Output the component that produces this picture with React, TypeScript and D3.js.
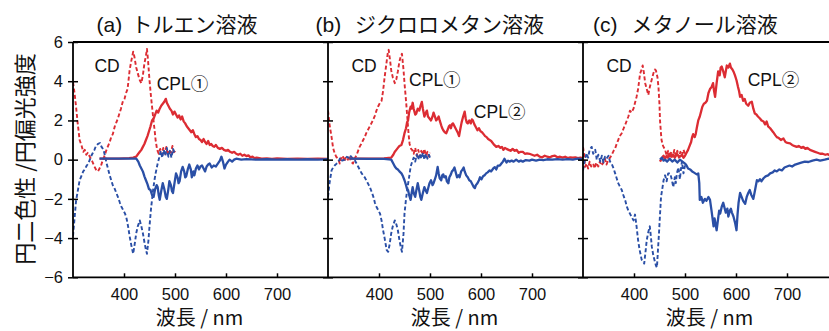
import React, { useEffect, useRef } from "react";
import * as d3 from "d3";

// panel headings and axis texts
const panelTags = ["(a)", "(b)", "(c)"];
const panelNames = ["トルエン溶液", "ジクロロメタン溶液", "メタノール溶液"];
const xTicks = [400, 500, 600, 700];
const yTicks = [-6, -4, -2, 0, 2, 4, 6];
const xLabel = "波長 / nm";
const yLabel = "円二色性 /円偏光強度";

// (a) toluene: [wavelength nm, value]
const cdRedA: [number, number][] = [
  [300, 3.95], [303, 3.4], [306, 2.7], [309, 1.9], [313, 1.0], [317, 0.7], [320, 0.4], [323, 0.5],
  [326, 0.25], [329, 0.35], [332, 0.2], [335, 0.05], [338, -0.1], [342, -0.35], [345, -0.5], [349, -0.6],
  [352, -0.45], [355, -0.3], [358, -0.05], [362, 0.2], [365, 0.45], [368, 0.65], [372, 0.9], [375, 1.15],
  [378, 1.3], [382, 1.7], [385, 1.9], [388, 2.1], [391, 2.35], [394, 2.6], [398, 3.0], [401, 3.1],
  [404, 3.4], [407, 3.6], [411, 4.55], [414, 5.0], [418, 5.5], [420, 5.3], [424, 4.7], [427, 4.4],
  [431, 4.05], [434, 3.9], [437, 4.3], [440, 4.9], [443, 5.3], [445, 5.65], [447, 5.1], [450, 4.05],
  [453, 3.2], [457, 2.2], [460, 1.5], [462, 1.0], [465, 0.5], [468, 0.3], [471, 0.55], [474, 0.25],
  [477, 0.6], [480, 0.3], [483, 0.65], [486, 0.2], [489, 0.5], [492, 0.35], [495, 0.7], [498, 0.3], [500, 0.45],
];
const cdBlueA: [number, number][] = [
  [300, -3.9], [303, -3.0], [306, -2.1], [310, -1.5], [313, -1.05], [317, -0.8], [320, -0.6], [323, -0.5],
  [327, -0.3], [330, -0.2], [333, 0.0], [336, 0.2], [339, 0.35], [342, 0.5], [345, 0.7], [349, 0.8],
  [353, 0.85], [356, 0.65], [360, 0.5], [363, 0.15], [366, -0.2], [369, -0.5], [372, -0.8], [375, -1.05],
  [378, -1.3], [382, -1.5], [385, -1.7], [388, -1.9], [392, -2.2], [395, -2.4], [398, -2.55], [402, -2.75],
  [405, -3.0], [408, -3.4], [411, -3.9], [415, -4.45], [418, -4.8], [421, -4.3], [424, -3.75], [427, -3.4],
  [431, -3.1], [434, -3.4], [437, -3.75], [440, -4.2], [443, -4.6], [445, -4.8], [448, -4.1], [450, -3.4],
  [453, -2.5], [457, -1.55], [460, -1.0], [462, -0.7], [466, -0.2], [469, 0.1], [472, 0.45], [475, 0.1],
  [478, 0.5], [481, 0.2], [484, 0.6], [487, 0.15], [490, 0.45], [493, 0.1], [496, 0.55], [500, 0.3],
];
const cplRedA: [number, number][] = [
  [352, 0.05], [370, 0.05], [390, 0.05], [410, 0.08], [418, 0.1], [424, 0.15], [428, 0.3], [431, 0.4],
  [434, 0.5], [437, 0.65], [440, 0.8], [443, 1.0], [446, 1.2], [449, 1.45], [452, 1.7], [455, 2.0],
  [458, 2.1], [461, 2.3], [464, 2.5], [467, 2.4], [470, 2.6], [473, 2.75], [476, 2.85], [479, 2.95],
  [482, 3.1], [484, 2.9], [487, 2.75], [490, 2.6], [493, 2.5], [496, 2.3], [499, 2.45], [502, 2.3],
  [505, 2.15], [508, 2.25], [511, 2.05], [514, 2.2], [517, 1.95], [520, 1.85], [523, 1.7], [526, 1.6],
  [529, 1.5], [532, 1.4], [535, 1.5], [538, 1.3], [541, 1.15], [544, 1.2], [547, 1.05], [550, 1.0],
  [553, 0.9], [556, 1.05], [559, 0.9], [562, 0.8], [565, 0.95], [568, 0.75], [571, 0.8], [574, 0.7],
  [577, 0.65], [580, 0.75], [584, 0.6], [588, 0.55], [592, 0.6], [596, 0.5], [600, 0.45], [604, 0.5],
  [608, 0.4], [612, 0.35], [616, 0.4], [620, 0.3], [624, 0.25], [628, 0.3], [632, 0.2], [636, 0.25],
  [640, 0.18], [644, 0.22], [648, 0.12], [652, 0.15], [656, 0.08], [660, 0.1], [670, 0.05], [680, 0.07],
  [690, 0.04], [700, 0.06], [720, 0.04], [740, 0.05], [760, 0.04], [780, 0.05], [800, 0.04],
];
const cplBlueA: [number, number][] = [
  [352, 0.05], [380, 0.05], [410, 0.05], [424, 0.05], [428, -0.1], [431, -0.3], [434, -0.45], [437, -0.6],
  [440, -0.85], [443, -1.05], [446, -1.25], [449, -1.5], [452, -1.55], [455, -1.8], [458, -1.9], [461, -1.5],
  [464, -1.3], [466, -1.4], [468, -1.8], [470, -2.05], [473, -1.6], [476, -1.2], [479, -1.5], [482, -1.9],
  [484, -2.0], [487, -1.5], [489, -1.1], [492, -1.3], [494, -1.6], [496, -1.7], [499, -1.2], [502, -0.7],
  [505, -0.9], [507, -1.2], [509, -1.1], [512, -0.6], [515, -0.37], [518, -0.6], [520, -0.9], [522, -0.85],
  [525, -0.5], [528, -0.25], [531, -0.5], [533, -0.9], [536, -0.6], [538, -0.8], [541, -0.45], [544, -0.3],
  [547, -0.5], [550, -0.35], [553, -0.3], [556, -0.45], [559, -0.6], [562, -0.35], [565, -0.25], [568, -0.2],
  [572, -0.4], [576, -0.3], [580, -0.35], [584, -0.2], [588, -0.05], [591, 0.15], [594, -0.1], [597, -0.45],
  [600, -0.25], [604, -0.1], [607, 0.0], [612, -0.1], [616, 0.0], [620, 0.05], [630, 0.0], [640, 0.03],
  [660, 0.0], [680, 0.02], [700, 0.0], [720, 0.02], [740, 0.0], [760, 0.02], [780, 0.0], [800, 0.02],
];

// (b) dichloromethane
const cdRedB: [number, number][] = [
  [300, 2.5], [303, 1.8], [307, 1.15], [310, 0.6], [313, 0.33], [316, 0.15], [320, 0.05], [323, -0.2],
  [326, 0.1], [329, 0.2], [332, -0.1], [335, 0.15], [339, 0.0], [342, 0.2], [345, -0.1], [349, -0.2],
  [352, 0.05], [356, 0.23], [359, 0.45], [362, 0.65], [365, 0.8], [369, 1.0], [372, 1.15], [375, 1.35],
  [378, 1.5], [382, 1.7], [385, 1.85], [388, 2.0], [392, 2.25], [395, 2.5], [398, 2.7], [402, 2.9],
  [405, 3.0], [408, 3.5], [411, 4.2], [414, 4.8], [417, 5.4], [419, 5.6], [422, 5.0], [424, 4.55],
  [427, 4.2], [431, 3.9], [434, 4.1], [437, 4.5], [440, 5.0], [443, 5.3], [445, 5.4], [448, 4.6],
  [450, 3.9], [453, 3.0], [456, 2.0], [458, 1.3], [460, 0.8], [463, 0.55], [465, 0.5], [468, 0.3],
  [471, 0.6], [474, 0.2], [477, 0.5], [480, 0.15], [483, 0.45], [486, 0.25], [489, 0.55], [492, 0.2],
  [495, 0.4], [498, 0.15], [500, 0.35],
];
const cdBlueB: [number, number][] = [
  [300, -1.9], [303, -1.2], [307, -0.55], [310, -0.4], [313, -0.3], [317, -0.2], [320, -0.15], [324, 0.1],
  [328, -0.05], [333, 0.0], [337, 0.15], [340, 0.1], [343, 0.23], [347, 0.1], [350, 0.0], [353, -0.05],
  [356, -0.2], [359, -0.35], [362, -0.5], [366, -0.7], [369, -0.8], [372, -0.9], [376, -1.1], [379, -1.25],
  [382, -1.4], [385, -1.6], [389, -1.9], [392, -2.2], [395, -2.4], [399, -2.6], [402, -2.75], [405, -3.1],
  [408, -3.6], [411, -4.0], [415, -4.6], [418, -4.7], [421, -4.3], [424, -3.75], [427, -3.4], [431, -3.1],
  [434, -3.3], [437, -3.6], [440, -4.1], [443, -4.5], [445, -4.7], [448, -3.8], [450, -2.75], [453, -2.0],
  [456, -1.4], [459, -0.9], [462, -0.37], [465, -0.1], [468, 0.1], [471, -0.1], [474, 0.25], [477, 0.0],
  [480, 0.3], [483, 0.05], [486, 0.35], [489, 0.0], [492, 0.3], [495, 0.05], [498, 0.25], [500, 0.1],
];
const cplRedB: [number, number][] = [
  [342, 0.05], [380, 0.05], [410, 0.06], [424, 0.1], [428, 0.25], [431, 0.4], [434, 0.5], [437, 0.6],
  [440, 0.7], [444, 0.75], [447, 1.0], [450, 1.35], [453, 1.6], [455, 1.9], [457, 2.0], [459, 2.4],
  [462, 2.7], [464, 2.6], [466, 2.9], [468, 2.6], [471, 2.3], [473, 2.35], [476, 2.6], [479, 2.5],
  [481, 2.7], [484, 2.95], [486, 2.6], [489, 2.2], [492, 2.4], [494, 2.5], [496, 2.2], [499, 2.1],
  [502, 2.0], [505, 2.2], [507, 2.4], [509, 2.25], [512, 2.0], [515, 2.1], [517, 2.2], [519, 2.0],
  [522, 1.75], [524, 1.6], [526, 1.5], [529, 1.4], [532, 1.35], [535, 1.55], [537, 1.7], [539, 1.75],
  [541, 1.6], [543, 1.8], [545, 1.85], [548, 1.7], [551, 1.55], [554, 1.4], [557, 1.2], [559, 1.5],
  [562, 1.9], [565, 2.2], [568, 2.45], [570, 2.1], [572, 1.9], [574, 1.85], [577, 2.0], [580, 1.85],
  [582, 2.05], [584, 2.0], [587, 1.8], [590, 1.65], [593, 1.5], [596, 1.6], [599, 1.45], [602, 1.4],
  [605, 1.3], [608, 1.2], [611, 1.15], [614, 1.05], [617, 1.0], [620, 0.95], [623, 0.85], [626, 0.75],
  [630, 0.65], [634, 0.7], [638, 0.6], [641, 0.65], [644, 0.5], [647, 0.6], [650, 0.55], [654, 0.5],
  [658, 0.45], [662, 0.55], [666, 0.45], [670, 0.5], [674, 0.35], [678, 0.4], [682, 0.4], [686, 0.3],
  [690, 0.32], [695, 0.3], [700, 0.25], [705, 0.2], [710, 0.25], [715, 0.15], [720, 0.12], [725, 0.2],
  [730, 0.15], [735, 0.12], [740, 0.18], [745, 0.2], [750, 0.12], [755, 0.15], [760, 0.1], [765, 0.15],
  [770, 0.08], [775, 0.12], [780, 0.1], [785, 0.12], [790, 0.08], [795, 0.1], [800, 0.08],
];
const cplBlueB: [number, number][] = [
  [342, 0.05], [380, 0.04], [410, 0.04], [424, 0.0], [428, -0.2], [431, -0.35], [434, -0.45], [437, -0.5],
  [440, -0.6], [444, -0.7], [447, -0.85], [450, -1.05], [453, -1.3], [455, -1.5], [457, -1.55], [459, -1.8],
  [462, -2.05], [464, -1.7], [466, -1.4], [468, -1.7], [471, -1.9], [473, -1.6], [476, -1.2], [479, -1.6],
  [481, -1.9], [483, -2.05], [486, -1.7], [489, -1.4], [492, -1.6], [494, -1.7], [496, -1.5], [499, -1.2],
  [502, -1.05], [505, -1.3], [507, -1.2], [509, -1.05], [512, -0.8], [515, -0.37], [517, -0.7], [519, -0.95],
  [522, -1.05], [524, -0.8], [526, -0.75], [528, -0.9], [531, -0.85], [533, -1.1], [536, -1.2], [538, -0.9],
  [541, -0.75], [543, -0.6], [545, -0.55], [548, -0.4], [551, -0.7], [553, -0.9], [556, -0.8], [558, -0.9],
  [561, -0.6], [564, -0.5], [566, -0.4], [568, -0.6], [571, -0.8], [574, -0.9], [577, -1.05], [580, -1.1],
  [583, -1.25], [586, -1.4], [588, -1.45], [590, -1.3], [593, -1.2], [596, -1.05], [598, -0.9], [601, -1.0],
  [604, -0.85], [607, -0.8], [610, -0.7], [613, -0.65], [617, -0.55], [620, -0.6], [624, -0.45], [627, -0.38],
  [630, -0.5], [633, -0.3], [637, -0.3], [640, -0.2], [643, -0.1], [646, 0.05], [650, -0.15], [653, -0.05],
  [656, -0.1], [660, -0.05], [664, -0.1], [669, 0.0], [674, -0.1], [678, -0.05], [682, -0.1], [688, -0.02],
  [695, -0.05], [700, 0.0], [708, -0.05], [715, 0.0], [722, -0.03], [730, 0.02], [740, 0.0], [750, 0.03],
  [760, 0.0], [770, 0.03], [780, 0.0], [790, 0.05], [800, 0.02],
];

// (c) methanol
const cdRedC: [number, number][] = [
  [300, 0.65], [302, 0.3], [304, -0.37], [307, -0.2], [310, -0.45], [313, -0.1], [316, -0.35], [320, -0.2],
  [323, -0.45], [326, -0.15], [330, -0.35], [333, -0.1], [336, -0.3], [340, -0.15], [343, 0.05], [346, -0.25],
  [350, 0.0], [353, 0.1], [356, 0.23], [360, 0.45], [363, 0.57], [366, 0.8], [369, 1.0], [372, 1.2],
  [376, 1.35], [379, 1.55], [383, 1.8], [386, 2.0], [389, 2.2], [392, 2.5], [395, 2.4], [399, 2.6],
  [402, 2.9], [405, 3.2], [408, 3.6], [412, 4.4], [415, 4.6], [417, 4.8], [419, 4.5], [422, 3.9],
  [425, 3.6], [428, 3.3], [431, 3.7], [433, 3.9], [436, 4.2], [438, 4.4], [441, 4.6], [443, 4.55],
  [446, 4.2], [448, 3.7], [450, 2.8], [451, 2.0], [453, 1.3], [454, 1.0], [457, 0.7], [461, 0.5],
  [464, 0.2], [467, 0.45], [470, 0.1], [473, 0.4], [476, 0.15], [479, 0.5], [482, 0.2], [485, 0.45],
  [488, 0.1], [491, 0.4], [494, 0.2], [497, 0.5], [500, 0.3],
];
const cdBlueC: [number, number][] = [
  [300, -0.55], [303, -0.1], [307, 0.33], [310, 0.1], [313, 0.5], [317, 0.65], [320, 0.3], [324, 0.5],
  [327, 0.0], [330, 0.25], [334, -0.1], [337, 0.2], [340, -0.15], [343, 0.15], [346, 0.05], [350, 0.2],
  [353, -0.1], [356, -0.2], [360, -0.45], [363, -0.7], [366, -0.95], [369, -1.2], [372, -1.35], [376, -1.55],
  [379, -1.8], [383, -2.1], [386, -2.4], [389, -2.6], [392, -2.75], [395, -2.9], [399, -3.1], [402, -2.8],
  [405, -3.4], [408, -4.1], [411, -4.6], [415, -5.1], [418, -5.2], [420, -5.3], [423, -4.6], [425, -4.1],
  [428, -3.7], [431, -3.4], [433, -3.9], [435, -4.45], [438, -4.9], [441, -5.2], [443, -5.4], [445, -5.5],
  [447, -4.6], [449, -3.75], [451, -2.8], [453, -1.9], [456, -1.4], [458, -1.05], [461, -0.8], [464, -1.1],
  [467, -0.7], [471, -0.7], [474, -1.0], [477, -1.4], [480, -0.9], [482, -1.2], [484, -0.7], [487, -0.4],
  [490, -1.0], [492, -0.5], [494, -0.1], [497, -0.7], [500, -0.3],
];
const cplRedC: [number, number][] = [
  [451, -0.1], [455, 0.1], [458, 0.2], [461, 0.05], [464, 0.2], [467, 0.1], [470, 0.3], [473, 0.15],
  [477, 0.25], [480, 0.1], [484, 0.3], [487, 0.2], [490, 0.15], [494, 0.25], [497, 0.1], [500, 0.2],
  [503, 0.35], [506, 0.5], [509, 0.7], [512, 0.9], [514, 1.15], [516, 1.3], [519, 1.15], [521, 1.3],
  [523, 1.6], [526, 2.0], [529, 2.2], [532, 2.5], [534, 2.7], [537, 2.85], [540, 2.9], [543, 3.0],
  [546, 3.4], [549, 3.6], [552, 3.7], [555, 3.9], [557, 3.5], [559, 3.2], [562, 3.9], [565, 4.5],
  [568, 4.3], [570, 4.7], [572, 4.75], [575, 4.5], [578, 4.2], [580, 4.5], [582, 4.8], [585, 4.7],
  [588, 4.9], [590, 4.7], [593, 4.6], [595, 4.5], [598, 4.3], [601, 4.05], [604, 3.7], [606, 3.5],
  [608, 3.2], [611, 3.3], [614, 3.0], [617, 3.1], [620, 2.85], [624, 2.75], [627, 2.9], [631, 2.95],
  [634, 2.6], [637, 2.35], [640, 2.3], [643, 2.2], [647, 2.1], [650, 2.0], [654, 1.95], [657, 1.8],
  [660, 1.95], [663, 1.7], [667, 1.6], [670, 1.5], [673, 1.4], [677, 1.25], [680, 1.15], [684, 1.1],
  [688, 1.0], [693, 1.08], [697, 0.9], [701, 0.85], [706, 0.83], [710, 0.75], [714, 0.7], [719, 0.65],
  [723, 0.7], [728, 0.6], [732, 0.65], [736, 0.55], [740, 0.6], [745, 0.5], [750, 0.45], [755, 0.4],
  [760, 0.35], [765, 0.3], [770, 0.3], [775, 0.25], [780, 0.28], [785, 0.2], [790, 0.22], [800, 0.2],
];
const cplBlueC: [number, number][] = [
  [451, 0.0], [455, 0.1], [458, -0.05], [461, 0.0], [465, -0.1], [470, 0.05], [475, -0.1], [480, 0.0],
  [485, -0.15], [490, 0.0], [495, -0.1], [500, -0.2], [503, -0.3], [506, -0.45], [510, -0.5], [514, -0.6],
  [517, -0.65], [520, -0.7], [523, -0.75], [526, -0.7], [528, -1.2], [529, -2.05], [532, -1.9], [535, -2.2],
  [539, -2.0], [542, -2.1], [546, -1.9], [549, -2.05], [552, -2.6], [554, -3.0], [556, -3.4], [558, -3.0],
  [560, -3.3], [562, -3.6], [565, -3.0], [567, -2.6], [569, -2.75], [572, -2.4], [575, -2.2], [578, -2.5],
  [580, -2.7], [583, -2.5], [585, -2.9], [588, -2.6], [590, -2.5], [592, -2.7], [595, -2.9], [598, -3.2],
  [601, -3.6], [603, -2.8], [605, -2.2], [608, -1.7], [611, -1.9], [614, -2.1], [618, -2.25], [621, -1.9],
  [624, -1.7], [627, -1.55], [630, -1.8], [634, -2.0], [637, -1.6], [641, -1.05], [644, -1.1], [647, -1.0],
  [650, -1.1], [654, -0.95], [658, -0.85], [663, -0.8], [667, -0.7], [672, -0.65], [676, -0.55], [680, -0.6],
  [685, -0.5], [690, -0.55], [695, -0.4], [700, -0.35], [705, -0.3], [710, -0.35], [716, -0.25], [722, -0.2],
  [728, -0.15], [735, -0.1], [742, -0.12], [750, -0.05], [758, 0.0], [765, -0.05], [774, 0.0], [782, 0.05],
  [790, 0.0], [800, 0.02],
];

// callouts: [panel, text, wavelength, value]
const callouts: [number, string, number, number][] = [
  [0, "CD", 342, 4.45], [0, "CPL①", 464, 3.53],
  [1, "CD", 346, 4.45], [1, "CPL①", 459, 3.78], [1, "CPL②", 586, 2.12],
  [2, "CD", 346, 4.45], [2, "CPL②", 623, 3.76],
];

const RED = "#dc2c33";
const BLUE = "#2a4fa6";
const LATIN = "'Liberation Sans', Arial, 'Noto Sans CJK JP', sans-serif";
const CJK = "'Noto Sans CJK JP', sans-serif";

function drawChart(svgEl: SVGSVGElement) {
  const svg = d3.select(svgEl);
  svg.selectAll("*").remove();

  const panelW = 255;
  const left = 73;
  const top = 42;
  const bottom = 277.3;

  const y = d3.scaleLinear().domain([-6, 6]).range([bottom, top]);

  const panels = [
    { cdRed: cdRedA, cdBlue: cdBlueA, cplRed: cplRedA, cplBlue: cplBlueA },
    { cdRed: cdRedB, cdBlue: cdBlueB, cplRed: cplRedB, cplBlue: cplBlueB },
    { cdRed: cdRedC, cdBlue: cdBlueC, cplRed: cplRedC, cplBlue: cplBlueC },
  ];
  const titleX = [[96.5, 131.5], [315.5, 355], [593, 631.5]];

  panels.forEach((p, i) => {
    const x0 = left + i * panelW;
    const x = d3.scaleLinear().domain([300, 800]).range([x0, x0 + panelW]);
    const g = svg.append("g");

    // clip to plot area
    const clipId = `clip-${i}`;
    svg.append("clipPath").attr("id", clipId)
      .append("rect").attr("x", x0).attr("y", top).attr("width", panelW).attr("height", bottom - top);

    const line = d3.line<[number, number]>().x((d) => x(d[0])).y((d) => y(d[1]));
    const lines = g.append("g").attr("clip-path", `url(#${clipId})`);

    // dashed CD traces, solid CPL traces
    [[p.cdRed, RED, true], [p.cdBlue, BLUE, true], [p.cplRed, RED, false], [p.cplBlue, BLUE, false]]
      .forEach(([data, color, dashed]: any) => {
        lines.append("path")
          .datum(data)
          .attr("d", line)
          .attr("fill", "none")
          .attr("stroke", color)
          .attr("stroke-width", dashed ? 1.9 : 2.3)
          .attr("stroke-linejoin", "round")
          .attr("stroke-dasharray", dashed ? "4,2.4" : null);
      });

    // bottom axis with inward ticks
    const xAxis = g.append("g")
      .attr("transform", `translate(0,${bottom})`)
      .call(d3.axisBottom(x).tickValues(xTicks).tickSize(-4).tickPadding(11).tickSizeOuter(0));
    xAxis.select(".domain").remove();
    xAxis.selectAll(".tick line").attr("stroke", "#000").attr("stroke-width", 1.5);
    xAxis.selectAll(".tick text")
      .attr("font-family", LATIN).attr("font-size", 16.5).attr("fill", "#111");

    // left edge axis: ticks cross the line
    const yAxis = g.append("g")
      .attr("transform", `translate(${x0},0)`)
      .call(d3.axisLeft(y).tickValues(yTicks).tickSize(5).tickPadding(5).tickSizeOuter(0));
    yAxis.select(".domain").remove();
    yAxis.selectAll(".tick line").attr("x1", 5).attr("stroke", "#000").attr("stroke-width", 1.5);
    if (i === 0) {
      yAxis.selectAll(".tick text")
        .attr("font-family", LATIN).attr("font-size", 16.5).attr("fill", "#111");
    } else {
      yAxis.selectAll(".tick text").remove();
    }

    // panel heading
    const title = svg.append("text")
      .attr("y", 31.5).attr("font-size", 21).attr("fill", "#111");
    title.append("tspan").attr("x", titleX[i][0]).attr("font-family", LATIN).text(panelTags[i]);
    title.append("tspan").attr("x", titleX[i][1]).attr("font-family", CJK).text(panelNames[i]);

    // x label
    svg.append("text")
      .attr("x", x0 + panelW / 2 - 1).attr("y", 325)
      .attr("text-anchor", "middle").attr("font-family", CJK).attr("font-size", 20)
      .attr("fill", "#111").text(xLabel);

    // callouts
    callouts.filter((c) => c[0] === i).forEach((c) => {
      svg.append("text")
        .attr("x", x(c[2])).attr("y", y(c[3]))
        .attr("font-family", LATIN).attr("font-size", 17.5).attr("fill", "#111")
        .text(c[1]);
    });
  });

  // frame: top and bottom rules across panels, vertical dividers
  const frame = svg.append("g").attr("stroke", "#000").attr("stroke-width", 1.8);
  frame.append("line").attr("x1", left).attr("x2", 829).attr("y1", top).attr("y2", top);
  frame.append("line").attr("x1", left).attr("x2", 829).attr("y1", bottom).attr("y2", bottom);
  [0, 1, 2].forEach((i) => {
    frame.append("line")
      .attr("x1", left + i * panelW).attr("x2", left + i * panelW)
      .attr("y1", top).attr("y2", bottom);
  });

  // y label
  svg.append("text")
    .attr("transform", `translate(23,159) rotate(-90)`)
    .attr("text-anchor", "middle").attr("dominant-baseline", "central")
    .attr("font-family", CJK).attr("font-size", 22).attr("fill", "#111")
    .text(yLabel);
}

export default function App() {
  const ref = useRef<SVGSVGElement>(null);
  useEffect(() => {
    if (ref.current) drawChart(ref.current);
  }, []);
  return (
    <svg
      ref={ref}
      width={829}
      height={331}
      style={{ position: "absolute", left: 0, top: 0, background: "#fff" }}
    />
  );
}
